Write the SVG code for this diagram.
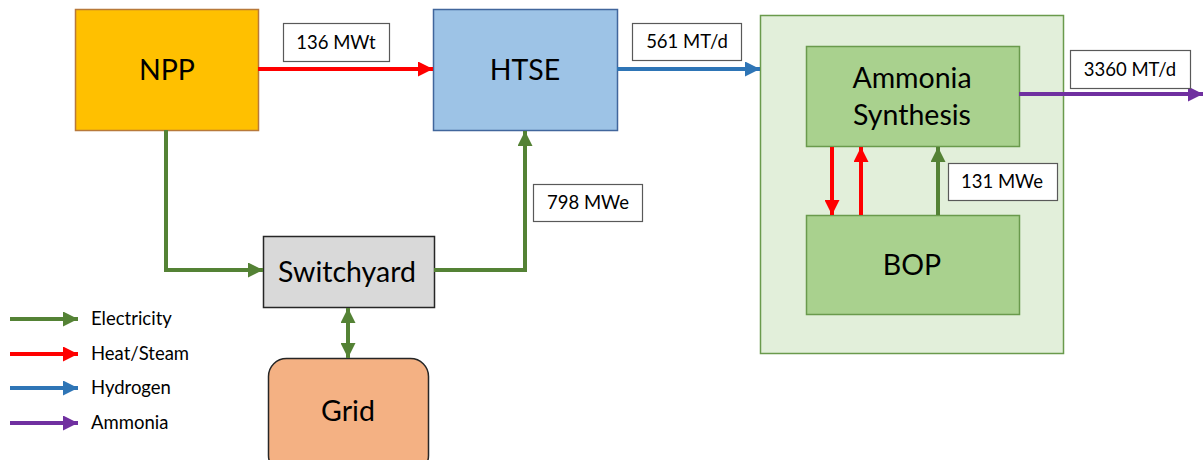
<svg xmlns="http://www.w3.org/2000/svg" width="1203" height="460" viewBox="0 0 1203 460">
<style>
text{font-family:Lato,"Open Sans","Liberation Sans",sans-serif;fill:#000;text-anchor:middle;}
.big{font-size:28.5px;}
.lbl{font-size:18.5px;}
.leg{font-size:18.5px;text-anchor:start;}
.box{fill:#fff;stroke:#595959;stroke-width:1.2;}
.e{stroke:#548235;stroke-width:4;fill:none;}
.h{stroke:#FF0000;stroke-width:4;fill:none;}
.hy{stroke:#2E75B6;stroke-width:4;fill:none;}
.a{stroke:#7030A0;stroke-width:4;fill:none;}
</style>
<defs>
<marker id="mE" markerWidth="15" markerHeight="15" refX="15" refY="7.5" orient="auto" markerUnits="userSpaceOnUse"><path d="M0,0 L15,7.5 L0,15 Z" fill="#548235"/></marker>
<marker id="mEs" markerWidth="15" markerHeight="15" refX="15" refY="7.5" orient="auto-start-reverse" markerUnits="userSpaceOnUse"><path d="M0,0 L15,7.5 L0,15 Z" fill="#548235"/></marker>
<marker id="mH" markerWidth="15" markerHeight="15" refX="15" refY="7.5" orient="auto" markerUnits="userSpaceOnUse"><path d="M0,0 L15,7.5 L0,15 Z" fill="#FF0000"/></marker>
<marker id="mHy" markerWidth="15" markerHeight="15" refX="15" refY="7.5" orient="auto" markerUnits="userSpaceOnUse"><path d="M0,0 L15,7.5 L0,15 Z" fill="#2E75B6"/></marker>
<marker id="mA" markerWidth="15" markerHeight="15" refX="15" refY="7.5" orient="auto" markerUnits="userSpaceOnUse"><path d="M0,0 L15,7.5 L0,15 Z" fill="#7030A0"/></marker>
</defs>
<rect width="1203" height="460" fill="#fff"/>

<g id="container">
<rect x="760.5" y="15.5" width="303" height="338" fill="#E2EFDA" stroke="#6A9A4C" stroke-width="1.5"/>
</g>

<g id="npp">
<rect x="75.5" y="9.5" width="183" height="121" fill="#FFC000" stroke="#B8793A" stroke-width="1.5"/>
<text class="big" x="167" y="80">NPP</text>
</g>
<g id="htse">
<rect x="433.5" y="9.5" width="184" height="121" fill="#9DC3E6" stroke="#41669C" stroke-width="1.5"/>
<text class="big" x="525" y="80">HTSE</text>
</g>
<g id="ammonia-synthesis">
<rect x="806.5" y="46.5" width="213" height="100" fill="#A9D18E" stroke="#6A9A4C" stroke-width="1.5"/>
<text class="big" x="912" y="88">Ammonia</text>
<text class="big" x="912" y="125">Synthesis</text>
</g>
<g id="bop">
<rect x="806.5" y="215.5" width="213" height="99" fill="#A9D18E" stroke="#6A9A4C" stroke-width="1.5"/>
<text class="big" x="912" y="275">BOP</text>
</g>
<g id="switchyard">
<rect x="263.5" y="236.5" width="171" height="71" fill="#D9D9D9" stroke="#262626" stroke-width="1.5"/>
<text class="big" x="347" y="282">Switchyard</text>
</g>
<g id="grid">
<rect x="268.5" y="358.5" width="160" height="115" rx="18" fill="#F4B183" stroke="#262626" stroke-width="1.5"/>
<text class="big" x="348" y="421">Grid</text>
</g>

<g id="connectors">
<line class="h" x1="258" y1="69" x2="433" y2="69" marker-end="url(#mH)"/>
<line class="hy" x1="617" y1="69" x2="760" y2="69" marker-end="url(#mHy)"/>
<line class="a" x1="1019" y1="94" x2="1203" y2="94" marker-end="url(#mA)"/>
<polyline class="e" points="166,130 166,270 263,270" marker-end="url(#mE)"/>
<polyline class="e" points="434,270 525,270 525,131" marker-end="url(#mE)"/>
<line class="e" x1="348" y1="308" x2="348" y2="358" marker-start="url(#mEs)" marker-end="url(#mEs)"/>
<line class="h" x1="832" y1="147" x2="832" y2="215" marker-end="url(#mH)"/>
<line class="h" x1="861" y1="215" x2="861" y2="147" marker-end="url(#mH)"/>
<line class="e" x1="938" y1="215" x2="938" y2="147" marker-end="url(#mE)"/>
</g>

<g id="labels">
<rect class="box" x="283.5" y="23.5" width="106" height="38"/>
<text class="lbl" x="336" y="49">136 MWt</text>
<rect class="box" x="632.5" y="23.5" width="109" height="37"/>
<text class="lbl" x="687" y="48">561 MT/d</text>
<rect class="box" x="1070.5" y="50.5" width="120" height="38"/>
<text class="lbl" x="1130" y="76">3360 MT/d</text>
<rect class="box" x="533.5" y="184.5" width="109" height="37"/>
<text class="lbl" x="588" y="209">798 MWe</text>
<rect class="box" x="948.5" y="163.5" width="109" height="37"/>
<text class="lbl" x="1002" y="188">131 MWe</text>
</g>

<g id="legend">
<line class="e" x1="10" y1="319" x2="78" y2="319" marker-end="url(#mE)"/>
<text class="leg" x="91" y="325">Electricity</text>
<line class="h" x1="10" y1="354" x2="78" y2="354" marker-end="url(#mH)"/>
<text class="leg" x="91" y="360">Heat/Steam</text>
<line class="hy" x1="10" y1="388" x2="78" y2="388" marker-end="url(#mHy)"/>
<text class="leg" x="91" y="394">Hydrogen</text>
<line class="a" x1="10" y1="423" x2="78" y2="423" marker-end="url(#mA)"/>
<text class="leg" x="91" y="429">Ammonia</text>
</g>
</svg>
